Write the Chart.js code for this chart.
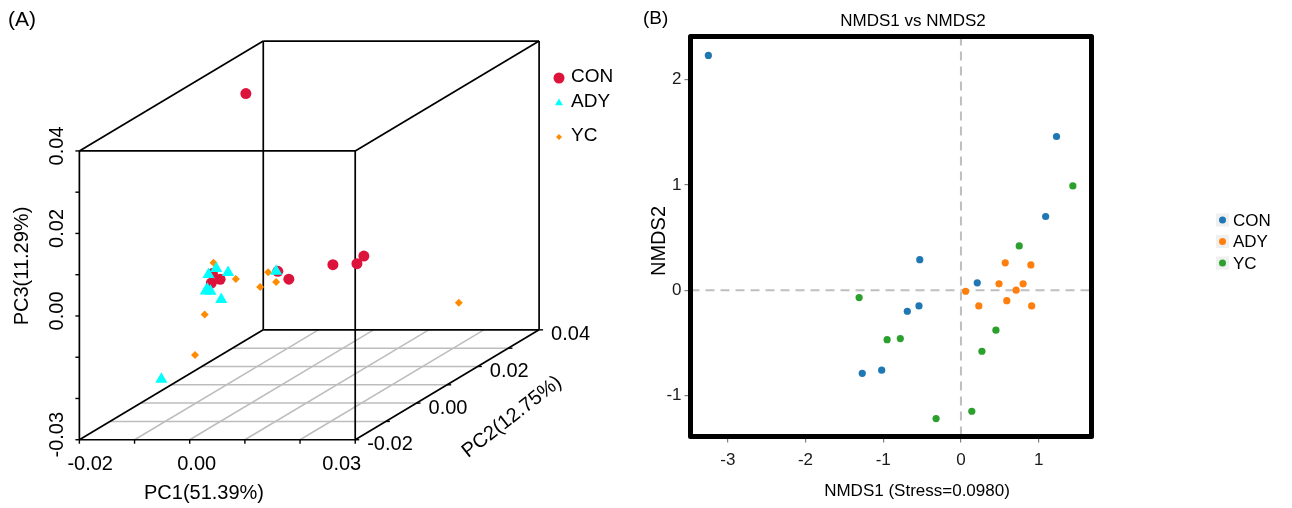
<!DOCTYPE html>
<html>
<head>
<meta charset="utf-8">
<script src="https://cdn.jsdelivr.net/npm/chart.js@4.4.0/dist/chart.umd.min.js"></script>
<style>
    html, body { margin: 0; padding: 0; background: #fff; }
    #wrap { position: relative; width: 1292px; height: 508px; }
    #boxA { position: absolute; left: 0; top: 0; width: 640px; height: 508px; }
    #boxB { position: absolute; left: 640px; top: 0; width: 652px; height: 508px; }
</style>
</head>
<body>
<div id="wrap">
    <div id="boxA"><canvas id="pcaChart"></canvas></div>
    <div id="boxB"><canvas id="nmdsChart"></canvas></div>
</div>
<script>
// Groups
const groups = ['CON', 'ADY', 'YC'];

// Panel A: PCA samples as [PC1, PC2, PC3]
const pcaCON = [
    [-0.0176, 0.03, 0.0317],
    [-0.0070, 0.00, 0.0014],
    [-0.0056, 0.00, 0.0000],
    [-0.0072, 0.00, -0.0009],
    [-0.0007, 0.01, -0.0025],
    [0.0013, 0.01, -0.0044],
    [0.0204, -0.01, 0.0080],
    [0.0192, 0.00, 0.0038],
    [0.0149, 0.01, 0.0012]
];
const pcaADY = [
    [-0.0063, 0.00, 0.0026],
    [-0.0077, 0.00, 0.0012],
    [0.0014, -0.01, 0.0061],
    [-0.0082, 0.00, -0.0028],
    [-0.0129, 0.01, -0.0073],
    [-0.0054, 0.00, -0.0049],
    [-0.0107, -0.01, -0.0198],
    [-0.0010, 0.01, -0.0025],
    [-0.0079, 0.00, -0.0024]
];
const pcaYC = [
    [-0.0068, 0.00, 0.0040],
    [-0.0066, 0.00, 0.0012],
    [0.0028, -0.01, 0.0045],
    [-0.0084, 0.00, -0.0085],
    [-0.0046, -0.01, -0.0139],
    [-0.0039, 0.01, -0.0063],
    [0.0031, 0.00, 0.0017],
    [-0.0010, 0.01, -0.0051],
    [0.0210, 0.03, -0.0190]
];

// Panel A axes
const pc1Range = [-0.02, 0.03];
const pc2Range = [-0.02, 0.04];
const pc3Range = [-0.03, 0.04];
const pc1Ticks = [-0.02, -0.01, 0.00, 0.01, 0.02, 0.03];
const pc1Labels = ['-0.02', '', '0.00', '', '', '0.03'];
const pc2Ticks = [-0.02, -0.01, 0.00, 0.01, 0.02, 0.03, 0.04];
const pc2Labels = ['-0.02', '', '0.00', '', '0.02', '', '0.04'];
const pc3Ticks = [-0.03, -0.02, -0.01, 0.00, 0.01, 0.02, 0.03, 0.04];
const pc3Labels = ['-0.03', '', '', '0.00', '', '0.02', '', '0.04'];

// Panel B: NMDS samples as [NMDS1, NMDS2]
const nmdsCON = [
    [-3.25, 2.23], [1.23, 1.46], [1.09, 0.70], [-0.53, 0.29], [0.21, 0.07],
    [-0.54, -0.15], [-0.69, -0.20], [-1.02, -0.76], [-1.27, -0.79]
];
const nmdsADY = [
    [0.57, 0.26], [0.90, 0.24], [0.49, 0.06], [0.80, 0.06], [0.06, -0.01],
    [0.71, 0.00], [0.59, -0.10], [0.23, -0.15], [0.91, -0.15]
];
const nmdsYC = [
    [1.44, 0.99], [0.75, 0.42], [-1.31, -0.07], [0.45, -0.38], [-0.95, -0.47],
    [-0.78, -0.46], [0.27, -0.58], [0.14, -1.15], [-0.32, -1.22]
];
const nmdsXTicks = [-3, -2, -1, 0, 1];
const nmdsYTicks = [-1, 0, 1, 2];

const FONT = "'Liberation Sans', Arial, Helvetica, sans-serif";

// ---------- Panel A (3D PCA) ----------

// oblique projection of the 3D box onto the canvas plane
const box = { ox: 74, oy: 445, w: 282, dx: 188, dy: 113, h: 297 };
function project(p) {
    const fx = (p[0] - pc1Range[0]) / (pc1Range[1] - pc1Range[0]);
    const fy = (p[1] - pc2Range[0]) / (pc2Range[1] - pc2Range[0]);
    const fz = (p[2] - pc3Range[0]) / (pc3Range[1] - pc3Range[0]);
    return { x: box.ox + fx * box.w + fy * box.dx, y: box.oy - fy * box.dy - fz * box.h };
}

const pcaSets = [pcaCON, pcaADY, pcaYC];
const pcaColors = ['#DC143C', '#00FFFF', '#FF8C00'];
const pcaStyles = ['circle', 'triangle', 'rectRot'];
const pcaRadius = [5.5, 7, 4];
const pcaOrder = [2, 1, 3];

function drawMarker(ctx, style, r, color, x, y) {
    ctx.save();
    ctx.fillStyle = color;
    if (window.Chart && Chart.helpers && Chart.helpers.drawPoint) {
        Chart.helpers.drawPoint(ctx, { pointStyle: style, radius: r, rotation: 0, borderWidth: 0 }, x, y);
    } else {
        ctx.beginPath();
        ctx.arc(x, y, r, 0, Math.PI * 2);
        ctx.fill();
    }
    ctx.restore();
}

const pcaDecor = {
    id: 'pcaDecor',
    beforeDatasetsDraw(chart) {
        const ctx = chart.ctx;
        const xs = chart.scales.x, ys = chart.scales.y;
        const P = (a, b, c) => {
            const q = project([a, b, c]);
            return [xs.getPixelForValue(q.x), ys.getPixelForValue(q.y)];
        };
        const seg = (p, q) => { ctx.beginPath(); ctx.moveTo(p[0], p[1]); ctx.lineTo(q[0], q[1]); ctx.stroke(); };

        ctx.save();
        // floor grid
        ctx.strokeStyle = '#bdbdbd';
        ctx.lineWidth = 1.5;
        pc2Ticks.slice(1, -1).forEach(t => seg(P(pc1Range[0], t, pc3Range[0]), P(pc1Range[1], t, pc3Range[0])));
        pc1Ticks.slice(1, -1).forEach(t => seg(P(t, pc2Range[0], pc3Range[0]), P(t, pc2Range[1], pc3Range[0])));

        // box edges
        ctx.strokeStyle = '#000';
        ctx.lineWidth = 1.7;
        const X = pc1Range, Y = pc2Range, Z = pc3Range;
        for (const b of Y) for (const c of Z) seg(P(X[0], b, c), P(X[1], b, c));
        for (const a of X) for (const c of Z) seg(P(a, Y[0], c), P(a, Y[1], c));
        for (const a of X) for (const b of Y) seg(P(a, b, Z[0]), P(a, b, Z[1]));

        // tick marks
        ctx.lineWidth = 1.4;
        pc3Ticks.forEach(t => { const p = P(X[0], Y[0], t); seg(p, [p[0] - 4, p[1]]); });
        pc1Ticks.forEach(t => { const p = P(t, Y[0], Z[0]); seg(p, [p[0], p[1] + 4]); });
        pc2Ticks.forEach(t => { const p = P(X[1], t, Z[0]); seg(p, [p[0] + 4, p[1]]); });
        ctx.restore();
    },
    afterDraw(chart) {
        const ctx = chart.ctx;
        const xs = chart.scales.x, ys = chart.scales.y;
        const P = (a, b, c) => {
            const q = project([a, b, c]);
            return [xs.getPixelForValue(q.x), ys.getPixelForValue(q.y)];
        };
        ctx.save();
        ctx.fillStyle = '#000';
        ctx.textBaseline = 'middle';

        // panel tag
        ctx.font = '21px ' + FONT;
        ctx.textAlign = 'left';
        ctx.fillText('(A)', 8, 20);

        ctx.font = '20px ' + FONT;
        // PC1 labels
        pc1Ticks.forEach((t, i) => {
            if (!pc1Labels[i]) return;
            const p = P(t, pc2Range[0], pc3Range[0]);
            if (i === 0) { ctx.textAlign = 'left'; ctx.fillText(pc1Labels[i], p[0] - 12, 464); }
            else if (i === pc1Ticks.length - 1) { ctx.textAlign = 'right'; ctx.fillText(pc1Labels[i], p[0] + 6, 464); }
            else { ctx.textAlign = 'center'; ctx.fillText(pc1Labels[i], p[0] + 7, 464); }
        });
        // PC2 labels
        ctx.textAlign = 'left';
        pc2Ticks.forEach((t, i) => {
            if (!pc2Labels[i]) return;
            const p = P(pc1Range[1], t, pc3Range[0]);
            ctx.fillText(pc2Labels[i], p[0] + 12, p[1] + 5);
        });
        // PC3 labels (rotated)
        pc3Ticks.forEach((t, i) => {
            if (!pc3Labels[i]) return;
            const p = P(pc1Range[0], pc2Range[0], t);
            ctx.save();
            ctx.translate(57, p[1] - 5);
            ctx.rotate(-Math.PI / 2);
            ctx.textAlign = 'center';
            ctx.fillText(pc3Labels[i], 0, 0);
            ctx.restore();
        });

        // axis titles
        ctx.textAlign = 'center';
        ctx.fillText('PC1(51.39%)', 204, 493);
        ctx.save();
        ctx.translate(22, 266);
        ctx.rotate(-Math.PI / 2);
        ctx.fillText('PC3(11.29%)', 0, 0);
        ctx.restore();
        ctx.save();
        ctx.translate(512, 417);
        ctx.rotate(-38 * Math.PI / 180);
        ctx.fillText('PC2(12.75%)', 0, 0);
        ctx.restore();

        // legend
        const legendY = [77, 102, 136];
        const legendR = [5.5, 4.5, 3];
        groups.forEach((g, i) => {
            drawMarker(ctx, pcaStyles[i], legendR[i], pcaColors[i], 559, legendY[i] + 1);
            ctx.fillStyle = '#000';
            ctx.font = '19px ' + FONT;
            ctx.textAlign = 'left';
            ctx.fillText(g, 571, legendY[i]);
        });
        ctx.restore();
    }
};

new Chart(document.getElementById('pcaChart'), {
    type: 'scatter',
    data: {
        datasets: groups.map((g, i) => ({
            label: g,
            data: pcaSets[i].map(project),
            pointStyle: pcaStyles[i],
            pointRadius: pcaRadius[i],
            pointHoverRadius: pcaRadius[i],
            backgroundColor: pcaColors[i],
            borderWidth: 0,
            order: pcaOrder[i]
        }))
    },
    options: {
        responsive: true,
        maintainAspectRatio: false,
        animation: false,
        layout: { padding: 0 },
        plugins: { legend: { display: false }, tooltip: { enabled: false } },
        scales: {
            x: { type: 'linear', display: false, min: 0, max: 640 },
            y: { type: 'linear', display: false, min: 0, max: 508, reverse: true }
        }
    },
    plugins: [pcaDecor]
});

// ---------- Panel B (NMDS) ----------

const nmdsSets = [nmdsCON, nmdsADY, nmdsYC];
const nmdsColors = ['#1F77B4', '#FF7F0E', '#2CA02C'];

const nmdsDecor = {
    id: 'nmdsDecor',
    beforeDatasetsDraw(chart) {
        const { ctx, chartArea: a, scales: { x, y } } = chart;
        ctx.save();
        ctx.strokeStyle = '#bfbfbf';
        ctx.lineWidth = 2;
        ctx.setLineDash([9, 6]);
        const x0 = x.getPixelForValue(0), y0 = y.getPixelForValue(0);
        ctx.beginPath(); ctx.moveTo(x0, a.top); ctx.lineTo(x0, a.bottom); ctx.stroke();
        ctx.beginPath(); ctx.moveTo(a.left, y0); ctx.lineTo(a.right, y0); ctx.stroke();
        ctx.restore();
    },
    afterDraw(chart) {
        const { ctx, chartArea: a } = chart;
        ctx.save();
        // thick frame
        ctx.strokeStyle = '#000';
        ctx.lineWidth = 5;
        ctx.lineJoin = 'round';
        ctx.strokeRect(a.left, a.top, a.right - a.left, a.bottom - a.top);

        ctx.fillStyle = '#000';
        ctx.textBaseline = 'middle';
        ctx.textAlign = 'left';
        ctx.font = '19px ' + FONT;
        ctx.fillText('(B)', 3, 19);

        ctx.textAlign = 'center';
        ctx.font = '17px ' + FONT;
        ctx.fillText('NMDS1 vs NMDS2', 273, 21);
        ctx.fillText('NMDS1 (Stress=0.0980)', 277, 491);

        ctx.save();
        ctx.translate(19, 241);
        ctx.rotate(-Math.PI / 2);
        ctx.font = '20px ' + FONT;
        ctx.fillText('NMDS2', 0, 0);
        ctx.restore();

        // legend
        const legendY = [220, 241.5, 263];
        groups.forEach((g, i) => {
            ctx.fillStyle = '#f0f0f0';
            ctx.fillRect(576, legendY[i] - 6.5, 13, 13);
            ctx.fillStyle = nmdsColors[i];
            ctx.beginPath();
            ctx.arc(582.5, legendY[i], 3.5, 0, Math.PI * 2);
            ctx.fill();
            ctx.fillStyle = '#000';
            ctx.textAlign = 'left';
            ctx.font = '17px ' + FONT;
            ctx.fillText(g, 593, legendY[i] + 1);
        });
        ctx.restore();
    }
};

new Chart(document.getElementById('nmdsChart'), {
    type: 'scatter',
    data: {
        datasets: groups.map((g, i) => ({
            label: g,
            data: nmdsSets[i].map(p => ({ x: p[0], y: p[1] })),
            backgroundColor: nmdsColors[i],
            pointRadius: 3.6,
            pointHoverRadius: 3.6,
            borderWidth: 0
        }))
    },
    options: {
        responsive: true,
        maintainAspectRatio: false,
        animation: false,
        layout: { padding: { left: 0, top: 36.5, right: 200.5, bottom: 0 } },
        plugins: { legend: { display: false }, tooltip: { enabled: false } },
        scales: {
            x: {
                type: 'linear',
                min: -3.48,
                max: 1.68,
                afterBuildTicks: s => { s.ticks = nmdsXTicks.map(v => ({ value: v })); },
                afterFit: s => { s.height = 71.5; },
                border: { display: false },
                grid: { drawOnChartArea: false, drawTicks: true, tickLength: 6, color: '#7f7f7f', lineWidth: 1.2 },
                ticks: { font: { family: FONT, size: 17 }, color: '#1a1a1a', padding: 8, callback: v => String(v) }
            },
            y: {
                type: 'linear',
                min: -1.39,
                max: 2.41,
                afterBuildTicks: s => { s.ticks = nmdsYTicks.map(v => ({ value: v })); },
                afterFit: s => { s.width = 50.5; },
                border: { display: false },
                grid: { drawOnChartArea: false, drawTicks: true, tickLength: 6, color: '#7f7f7f', lineWidth: 1.2 },
                ticks: { font: { family: FONT, size: 17 }, color: '#1a1a1a', padding: 3, callback: v => String(v) }
            }
        }
    },
    plugins: [nmdsDecor]
});
</script>
</body>
</html>
